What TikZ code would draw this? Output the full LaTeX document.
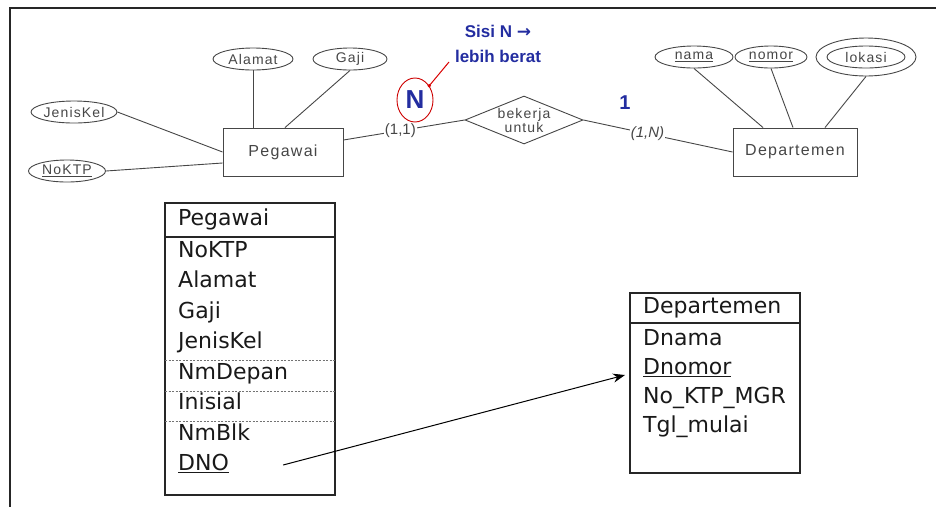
\documentclass[tikz,border=0pt]{standalone}
\usepackage{fontspec}
\setmainfont{Liberation Sans}
\newfontfamily\tabfont{DejaVu Sans}
\newfontfamily\arrowfont{DejaVu Sans}
\newfontfamily\erfont[LetterSpace=8]{Liberation Sans}
\usetikzlibrary{shapes.geometric,arrows.meta}
\definecolor{nblue}{RGB}{35,45,160}
\definecolor{ergray}{RGB}{70,70,70}

\begin{document}
\begin{tikzpicture}[x=1pt,y=-1pt,
    attr/.style = {ellipse, draw = ergray, line width = 0.9pt, inner sep = 0pt, minimum height = 22pt, text = ergray, font = \erfont\fontsize{14}{14}\selectfont},
    entity/.style = {rectangle, draw = ergray, line width = 0.9pt, minimum width = 120pt, minimum height = 48pt, text = ergray, font = \erfont\fontsize{16}{16}\selectfont},
    rel/.style = {diamond, draw = ergray, line width = 0.9pt, aspect = 2.4, inner sep = 0pt, minimum width = 118pt, minimum height = 48pt, align = center, text = ergray, font = \erfont\fontsize{14}{14}\selectfont},
    card/.style = {fill = white, inner sep = 1pt, text = ergray, font = \fontsize{15}{15}\selectfont},
    erline/.style = {draw = ergray, line width = 0.9pt},
    nring/.style = {ellipse, draw = red!80!black, line width = 0.9pt, inner sep = 0pt, minimum width = 36pt, minimum height = 44pt, text = nblue, font = \bfseries\fontsize{26}{26}\selectfont},
    note/.style = {text = nblue, font = \bfseries\fontsize{17}{25}\selectfont, align = center},
    rowtext/.style = {anchor = west, inner sep = 0pt, text height = 16pt, text depth = 5pt, text = black!90, font = \tabfont\fontsize{22}{22}\selectfont},
    tabline/.style = {draw = black!85, line width = 1.1pt}]
\useasboundingbox (0,0) rectangle (936,507);
\draw[line width = 2pt, black!85] (936,8) -- (10,8) -- (10,507);
% ER part
\node[entity] (pegawai) at (283,152) {Pegawai};
\node[entity, minimum width = 124pt] (departemen) at (795,152) {Departemen};
\node[attr, minimum width = 80pt] (alamat) at (253,59) {Alamat};
\node[attr, minimum width = 74pt] (gaji) at (350,59) {Gaji};
\node[attr, minimum width = 82pt] (jeniskel) at (74,112) {JenisKel};
\node[attr, minimum width = 77pt] (noktp) at (67,171) {\underline{NoKTP}};
\node[attr, minimum width = 78pt] (nama) at (694,57) {\underline{nama}};
\node[attr, minimum width = 72pt] (nomor) at (771,57) {\underline{nomor}};
\node[attr, minimum width = 78pt] (lokasi) at (866,57) {lokasi};
\node[attr, minimum width = 100pt, minimum height = 38pt] (lokasiouter) at (lokasi) {};
\node[rel] (bekerja) at (524,120) {bekerja\\untuk};
\draw[erline] (alamat.south) -- (alamat.south |- pegawai.north);
\draw[erline] (gaji.south) -- ([xshift = 2pt]pegawai.north);
\draw[erline] (jeniskel.east) -- (pegawai.west);
\draw[erline] (noktp.east) -- ([yshift = -11pt]pegawai.west);
\draw[erline] ([yshift = 12pt]pegawai.east) -- node[card, pos = 0.47] (kiri) {(1,1)} (bekerja.west);
\draw[erline] (bekerja.east) -- node[card, pos = 0.43, font = \itshape\fontsize{15}{15}\selectfont] (kanan) {(1,N)} (departemen.west);
\draw[erline] (nama.south) -- ([xshift = -32pt]departemen.north);
\draw[erline] (nomor.south) -- ([xshift = -2pt]departemen.north);
\draw[erline] (lokasiouter.south) -- ([xshift = 30pt]departemen.north);
% cardinality notes
\node[nring] (nmark) at (415,100) {N};
\node[note, font = \bfseries\fontsize{20}{20}\selectfont] (satu) at (625,103) {1};
\node[note] (sisi) at (498,44) {Sisi N {\arrowfont →}\\lebih berat};
\coordinate (redtip) at (449,62);
\draw[red!85!black, line width = 1pt] (nmark.45) -- (redtip);
\fill[red!85!black] (nmark.45) circle (1.8pt);
% tables
\draw[tabline] (165,203) rectangle (335,495);
\draw[tabline] (165,237) -- (335,237);
\foreach \y in {360,391,421}
    \draw[black!55, line width = 0.6pt, dash pattern = on 2pt off 1.5pt] (165,\y) -- (335,\y);
\node[rowtext] (phead) at (178,220) {Pegawai};
\foreach \t [count = \i] in {NoKTP,Alamat,Gaji,JenisKel,NmDepan,Inisial,NmBlk,\underline{DNO}}
    \node[rowtext] (p\i) at (178,{221+30.5*\i}) {\t};
\draw[tabline] (630,293) rectangle (800,473);
\draw[tabline] (630,323) -- (800,323);
\node[rowtext] (dhead) at (643,308) {Departemen};
\foreach \t [count = \i] in {Dnama,\underline{Dnomor},No\_KTP\_MGR,Tgl\_mulai}
    \node[rowtext] (d\i) at (643,{311+29*\i}) {\t};
\draw[line width = 1pt, -{Stealth[length = 12pt, width = 9pt]}] ([xshift = 54pt]p8.east) -- ([xshift = -18pt, yshift = -6pt]d2.west);
\end{tikzpicture}
\end{document}
